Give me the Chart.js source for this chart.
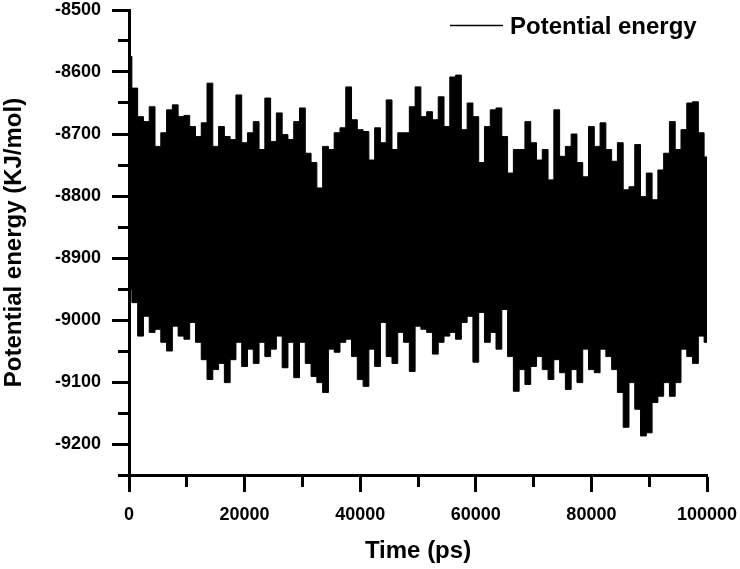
<!DOCTYPE html>
<html>
<head>
<meta charset="utf-8">
<script src="https://cdn.jsdelivr.net/npm/chart.js@4.4.1/dist/chart.umd.min.js"></script>
<style>
  html, body { margin: 0; padding: 0; background: #fff; }
</style>
</head>
<body>
<canvas id="chart-energy" width="740" height="569"></canvas>
<script>
/* =====================
   DATA (every 1000 ps)
===================== */

const energyLabel = 'Potential energy';

const times = [
    0, 1000, 2000, 3000, 4000, 5000, 6000, 7000, 8000, 9000,
    10000, 11000, 12000, 13000, 14000, 15000, 16000, 17000, 18000, 19000,
    20000, 21000, 22000, 23000, 24000, 25000, 26000, 27000, 28000, 29000,
    30000, 31000, 32000, 33000, 34000, 35000, 36000, 37000, 38000, 39000,
    40000, 41000, 42000, 43000, 44000, 45000, 46000, 47000, 48000, 49000,
    50000, 51000, 52000, 53000, 54000, 55000, 56000, 57000, 58000, 59000,
    60000, 61000, 62000, 63000, 64000, 65000, 66000, 67000, 68000, 69000,
    70000, 71000, 72000, 73000, 74000, 75000, 76000, 77000, 78000, 79000,
    80000, 81000, 82000, 83000, 84000, 85000, 86000, 87000, 88000, 89000,
    90000, 91000, 92000, 93000, 94000, 95000, 96000, 97000, 98000, 99000,
    100000
];

// highest energy reached in each slice (top of the black band)
const energyHigh = [
    -8575, -8626, -8672, -8680, -8656, -8720, -8698, -8661, -8653, -8672,
    -8670, -8688, -8704, -8682, -8618, -8720, -8688, -8704, -8709, -8637,
    -8714, -8698, -8680, -8725, -8642, -8712, -8666, -8701, -8709, -8680,
    -8658, -8731, -8746, -8787, -8720, -8725, -8698, -8690, -8624, -8677,
    -8693, -8696, -8742, -8690, -8714, -8645, -8725, -8698, -8698, -8656,
    -8624, -8672, -8664, -8677, -8640, -8688, -8608, -8605, -8693, -8650,
    -8672, -8746, -8688, -8661, -8658, -8704, -8763, -8725, -8725, -8680,
    -8714, -8742, -8725, -8774, -8661, -8736, -8720, -8700, -8746, -8769,
    -8688, -8720, -8682, -8725, -8744, -8714, -8790, -8785, -8717, -8801,
    -8763, -8806, -8758, -8731, -8680, -8725, -8693, -8650, -8648, -8698,
    -8737
];

// lowest energy reached in each slice (bottom of the black band)
const energyLow = [
    -8950, -8972, -9026, -8994, -9020, -9015, -9036, -9050, -9010, -9026,
    -9031, -9004, -9036, -9064, -9096, -9080, -9070, -9101, -9064, -9036,
    -9075, -9047, -9070, -9036, -9059, -9047, -9026, -9077, -9036, -9093,
    -9036, -9070, -9091, -9101, -9117, -9047, -9052, -9036, -9031, -9059,
    -9096, -9107, -9047, -9075, -9004, -9059, -9070, -9020, -9036, -9083,
    -9010, -9015, -9020, -9055, -9036, -9026, -9020, -9031, -9004, -8994,
    -9068, -8988, -9036, -9020, -9047, -8983, -9059, -9115, -9080, -9104,
    -9075, -9059, -9080, -9096, -9064, -9085, -9112, -9080, -9101, -9047,
    -9080, -9085, -9047, -9059, -9080, -9117, -9173, -9101, -9144, -9187,
    -9182, -9133, -9123, -9101, -9123, -9101, -9047, -9059, -9070, -9026,
    -9036
];

const xTicksMajor = 20000;
const yTicksMajor = 100;


/* =====================
   CREATE CHART
===================== */

Chart.defaults.font.family = '"Liberation Sans", Arial, sans-serif';
Chart.defaults.color = '#000';

const FONT_TICK = { size: 18, weight: 'bold' };
const FONT_TITLE = { size: 24, weight: 'bold' };

// simple legend: short line + bold label, top right
const legendLine = {
    id: 'legendLine',
    afterDraw(chart) {
        const ctx = chart.ctx;
        ctx.save();
        ctx.strokeStyle = '#000';
        ctx.lineWidth = 1.5;
        ctx.beginPath();
        ctx.moveTo(450, 25.5);
        ctx.lineTo(503, 25.5);
        ctx.stroke();
        ctx.font = 'bold 24px "Liberation Sans", Arial, sans-serif';
        ctx.fillStyle = '#000';
        ctx.textBaseline = 'alphabetic';
        ctx.fillText(energyLabel, 510, 34);
        ctx.restore();
    }
};

const ctxE = document.getElementById('chart-energy').getContext('2d');

const chartE = new Chart(ctxE, {
    type: 'line',
    data: {
        datasets: [{
            label: energyLabel,
            data: times.map((t, i) => ({ x: t, y: energyHigh[i] })),
            borderColor: '#000',
            backgroundColor: '#000',
            borderWidth: 1,
            pointRadius: 0,
            stepped: 'middle',
            fill: '+1'
        }, {
            label: energyLabel + ' (low)',
            data: times.map((t, i) => ({ x: t, y: energyLow[i] })),
            borderColor: '#000',
            borderWidth: 1,
            pointRadius: 0,
            stepped: 'middle',
            fill: false
        }]
    },
    options: {
        responsive: false,
        animation: false,
        devicePixelRatio: 1,
        layout: { padding: { left: 0, right: 33, top: 10, bottom: 0 } },
        plugins: {
            legend: { display: false },
            tooltip: { enabled: false }
        },
        scales: {
            x: {
                type: 'linear',
                min: 0,
                max: 100000,
                afterFit: s => { s.height = 94; s.paddingLeft = 0; s.paddingRight = 0; },
                border: { color: '#000', width: 3 },
                grid: {
                    drawOnChartArea: false,
                    tickLength: 17,
                    tickWidth: 3,
                    tickColor: '#000',
                    tickBorderDash: c => (c.tick && c.tick.value % xTicksMajor !== 0) ? [10, 100] : []
                },
                ticks: {
                    stepSize: 10000,
                    autoSkip: false,
                    maxRotation: 0,
                    padding: 12,
                    font: FONT_TICK,
                    callback: v => v % xTicksMajor === 0 ? String(v) : ''
                },
                title: {
                    display: true,
                    text: 'Time (ps)',
                    font: FONT_TITLE,
                    padding: { top: 0, bottom: 3 }
                }
            },
            y: {
                min: -9250,
                max: -8500,
                afterFit: s => { s.width = 129; s.paddingTop = 0; s.paddingBottom = 0; },
                border: { color: '#000', width: 3 },
                grid: {
                    drawOnChartArea: false,
                    tickLength: 17,
                    tickWidth: 3,
                    tickColor: '#000',
                    tickBorderDash: c => (c.tick && c.tick.value % yTicksMajor !== 0) ? [0, 6, 20, 100] : []
                },
                ticks: {
                    stepSize: 50,
                    autoSkip: false,
                    padding: 11,
                    font: FONT_TICK,
                    callback: v => v % yTicksMajor === 0 ? String(v) : ''
                },
                title: {
                    display: true,
                    text: 'Potential energy (KJ/mol)',
                    font: FONT_TITLE,
                    padding: { top: 0, bottom: 0 }
                }
            }
        }
    },
    plugins: [legendLine]
});
</script>
</body>
</html>
